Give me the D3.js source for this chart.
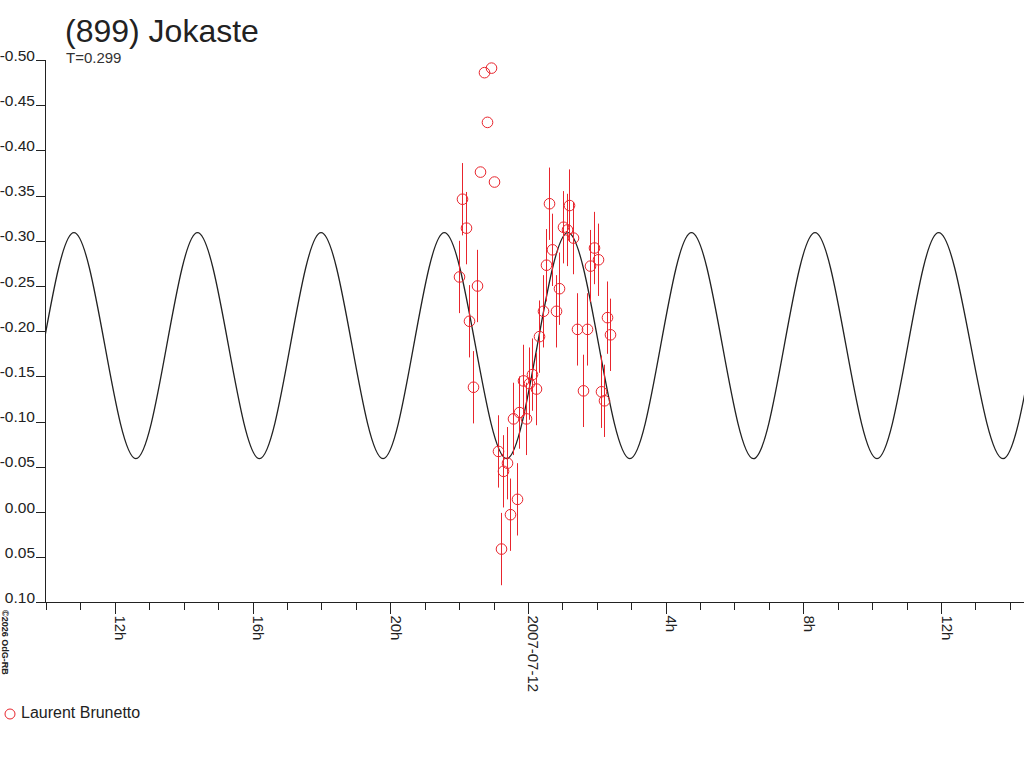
<!DOCTYPE html>
<html>
<head>
<meta charset="utf-8">
<script src="https://cdn.jsdelivr.net/npm/d3@7"></script>
<style>
  body { margin: 0; background: #fff; }
  svg { display: block; font-family: "Liberation Sans", Arial, sans-serif; }
</style>
</head>
<body>
<div id="chart"></div>
<script>
const WIDTH = 1024;
const HEIGHT = 768;
const PLOT = { LEFT: 45, RIGHT: 1024, TOP: 60, BOTTOM: 602.4 };
const RED = '#e8252d';
const INK = '#222';

const BASE_DATE = Date.UTC(2007, 6, 12); // 2007-07-12 0h UT
const X_START_H = -14.03;
const X_END_H = 14.41;

const title = '(899) Jokaste';
const periodLabel = 'T=0.299';
const observer = 'Laurent Brunetto';
const credit = '\u00a92026 OdG-RB';

// observations: hours from 2007-07-12 0h UT, relative magnitude, error
const obsHours = [-2.005, -1.918, -1.801, -1.714, -1.598, -1.482, -1.395, -1.278, -1.191, -1.075,
    -0.988, -0.872, -0.784, -0.726, -0.610, -0.523, -0.436, -0.320, -0.261, -0.145,
    -0.058, 0.029, 0.116, 0.232, 0.320, 0.436, 0.523, 0.610, 0.697, 0.813,
    0.901, 1.017, 1.133, 1.191, 1.307, 1.424, 1.598, 1.714, 1.801, 1.918,
    2.034, 2.121, 2.208, 2.295, 2.382];
const obsMags = [-0.260, -0.346, -0.314, -0.211, -0.138, -0.250, -0.376, -0.486, -0.431, -0.491,
    -0.365, -0.067, 0.041, -0.045, -0.054, 0.003, -0.103, -0.014, -0.110, -0.145,
    -0.103, -0.142, -0.152, -0.136, -0.194, -0.222, -0.273, -0.341, -0.290, -0.222,
    -0.247, -0.315, -0.312, -0.339, -0.303, -0.202, -0.134, -0.202, -0.272, -0.292,
    -0.279, -0.133, -0.123, -0.215, -0.196];
const obsErrs = [0.040, 0.040, 0.040, 0.040, 0.040, 0.040, 0, 0, 0, 0,
    0, 0.040, 0.040, 0.040, 0.040, 0.040, 0.040, 0.040, 0.040, 0.040,
    0.040, 0.040, 0.040, 0.040, 0.040, 0.040, 0.040, 0.040, 0.040, 0.040,
    0.040, 0.040, 0.040, 0.040, 0.040, 0.040, 0.040, 0.040, 0.040, 0.040,
    0.040, 0.040, 0.040, 0.040, 0.040];

// fitted light curve, read at its maxima / minima
const curveHours = [-16.76, -14.97, -13.19, -11.39, -9.60, -7.80, -6.01, -4.21, -2.43, -0.62,
    1.16, 2.96, 4.75, 6.55, 8.34, 10.14, 11.93, 13.80, 15.59, 17.38];
const curveMags = [-0.309, -0.059, -0.309, -0.059, -0.309, -0.059, -0.309, -0.059, -0.309, -0.059,
    -0.309, -0.059, -0.309, -0.059, -0.309, -0.059, -0.309, -0.059, -0.309, -0.059];

const yTicks = [-0.50, -0.45, -0.40, -0.35, -0.30, -0.25, -0.20, -0.15, -0.10, -0.05, 0.00, 0.05, 0.10];

const toDate = (h) => new Date(BASE_DATE + h * 3600e3);

let svg = d3.select('#chart')
    .append('svg')
    .attr('width', WIDTH)
    .attr('height', HEIGHT);

let x = d3.scaleUtc()
    .domain([toDate(X_START_H), toDate(X_END_H)])
    .range([PLOT.LEFT, PLOT.RIGHT]);
let y = d3.scaleLinear()
    .domain([-0.5, 0.1])
    .range([PLOT.TOP, PLOT.BOTTOM]);

// y-axis
let fmt = d3.formatLocale({ decimal: '.', thousands: ',', grouping: [3], currency: ['', ''], minus: '-' }).format('.2f');

let yAxis = svg.append('g')
    .attr('transform', `translate(${PLOT.LEFT},0)`)
    .call(d3.axisLeft(y).tickValues(yTicks).tickSize(9).tickFormat(fmt))
    .attr('font-family', null)
    .attr('font-size', 15.5)
    .style('color', INK);
yAxis.select('.domain').remove();
yAxis.selectAll('line').attr('shape-rendering', 'crispEdges');
yAxis.selectAll('text').attr('x', -10).attr('dy', 0);

svg.append('line')
    .attr('x1', PLOT.LEFT).attr('x2', PLOT.LEFT)
    .attr('y1', PLOT.TOP).attr('y2', PLOT.BOTTOM)
    .attr('stroke', INK)
    .attr('shape-rendering', 'crispEdges');

// x-axis
let hours = d3.utcHour.range(toDate(X_START_H), toDate(X_END_H));
let majorHours = hours.filter(d => d.getUTCHours() % 4 === 0);
let hourLabel = (d) => d.getUTCHours() === 0 ? d3.utcFormat('%Y-%m-%d')(d) : d.getUTCHours() + 'h';

let xMinor = svg.append('g')
    .attr('transform', `translate(0,${PLOT.BOTTOM})`)
    .call(d3.axisBottom(x).tickValues(hours).tickSize(8).tickFormat(''))
    .style('color', INK);
xMinor.select('.domain').remove();

let xMajor = svg.append('g')
    .attr('transform', `translate(0,${PLOT.BOTTOM})`)
    .call(d3.axisBottom(x).tickValues(majorHours).tickSize(12).tickFormat(hourLabel))
    .attr('font-family', null)
    .attr('font-size', 15)
    .style('color', INK);
xMajor.select('.domain').remove();
xMajor.selectAll('text')
    .attr('transform', 'rotate(90)')
    .attr('x', 13)
    .attr('y', 0)
    .attr('dy', 0)
    .style('text-anchor', 'start');
svg.selectAll('.tick line').attr('shape-rendering', 'crispEdges');

svg.append('line')
    .attr('x1', 36).attr('x2', PLOT.RIGHT)
    .attr('y1', PLOT.BOTTOM).attr('y2', PLOT.BOTTOM)
    .attr('stroke', INK)
    .attr('shape-rendering', 'crispEdges');

// fitted curve
svg.append('clipPath')
    .attr('id', 'plot-clip')
    .append('rect')
    .attr('x', PLOT.LEFT)
    .attr('y', 0)
    .attr('width', PLOT.RIGHT - PLOT.LEFT)
    .attr('height', PLOT.BOTTOM);

let curveData = curveHours.map((h, i) => ({ t: toDate(h), m: curveMags[i] }));
svg.append('path')
    .datum(curveData)
    .attr('clip-path', 'url(#plot-clip)')
    .attr('fill', 'none')
    .attr('stroke', INK)
    .attr('stroke-width', 1.3)
    .attr('d', d3.line()
        .x(d => x(d.t))
        .y(d => y(d.m))
        .curve(d3.curveMonotoneX));

// observations
let obs = obsHours.map((h, i) => ({ t: toDate(h), m: obsMags[i], e: obsErrs[i] }));
let px = (d) => Math.round(x(d.t)) + 0.5;

svg.append('g')
    .selectAll('line')
    .data(obs.filter(d => d.e > 0))
    .enter()
    .append('line')
    .attr('x1', px)
    .attr('x2', px)
    .attr('y1', d => y(d.m - d.e))
    .attr('y2', d => y(d.m + d.e))
    .attr('stroke', RED)
    .attr('stroke-width', 1);

svg.append('g')
    .selectAll('circle')
    .data(obs)
    .enter()
    .append('circle')
    .attr('cx', px)
    .attr('cy', d => y(d.m))
    .attr('r', 5.3)
    .attr('fill', 'none')
    .attr('stroke', RED);

// titles
svg.append('text')
    .attr('x', 65)
    .attr('y', 42)
    .attr('font-size', 32)
    .attr('fill', INK)
    .text(title);

svg.append('text')
    .attr('x', 66)
    .attr('y', 63)
    .attr('font-size', 15)
    .attr('fill', '#333')
    .text(periodLabel);

svg.append('text')
    .attr('transform', 'translate(1.5,610) rotate(90)')
    .attr('font-size', 9)
    .attr('font-weight', 'bold')
    .attr('fill', INK)
    .text(credit);

// legend
svg.append('circle')
    .attr('cx', 10)
    .attr('cy', 714)
    .attr('r', 5)
    .attr('fill', 'none')
    .attr('stroke', RED);

svg.append('text')
    .attr('x', 21)
    .attr('y', 718)
    .attr('font-size', 16)
    .attr('fill', INK)
    .text(observer);
</script>
</body>
</html>
